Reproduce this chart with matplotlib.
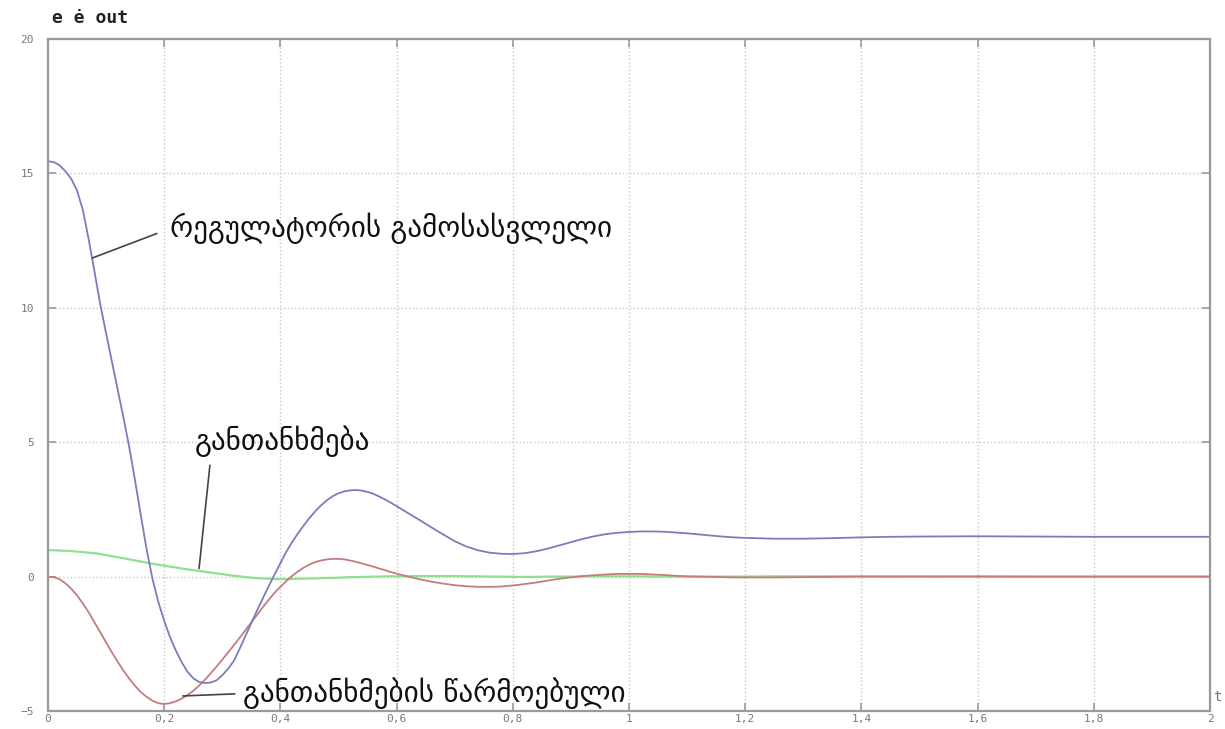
import numpy as np
from matplotlib import pyplot as plt

# time samples (s)
t = [0.00, 0.01, 0.02, 0.03, 0.04, 0.05, 0.06, 0.07, 0.08, 0.09,
     0.10, 0.11, 0.12, 0.13, 0.14, 0.15, 0.16, 0.17, 0.18, 0.19,
     0.20, 0.21, 0.22, 0.23, 0.24, 0.25, 0.26, 0.27, 0.28, 0.29,
     0.30, 0.31, 0.32, 0.33, 0.34, 0.35, 0.36, 0.37, 0.38, 0.39,
     0.40, 0.41, 0.42, 0.43, 0.44, 0.45, 0.46, 0.47, 0.48, 0.49,
     0.50, 0.51, 0.52, 0.53, 0.54, 0.55, 0.56, 0.57, 0.58, 0.59,
     0.60,
     0.62, 0.64, 0.66, 0.68, 0.70, 0.72, 0.74, 0.76, 0.78, 0.80,
     0.82, 0.84, 0.86, 0.88, 0.90, 0.92, 0.94, 0.96, 0.98, 1.00,
     1.02, 1.04, 1.06, 1.08, 1.10, 1.12, 1.14, 1.16, 1.18, 1.20,
     1.25, 1.30, 1.35, 1.40, 1.45,
     1.50, 1.60, 1.70, 1.80, 1.90, 2.00]

# regulator output (blue)
out = [15.45, 15.42, 15.30, 15.08, 14.80, 14.36, 13.64, 12.55, 11.35, 10.12,
       9.05, 8.00, 6.95, 5.90, 4.80, 3.55, 2.25, 0.98, -0.10, -0.95,
       -1.65, -2.25, -2.75, -3.18, -3.54, -3.78, -3.92, -3.96, -3.94, -3.86,
       -3.67, -3.43, -3.13, -2.68, -2.20, -1.72, -1.25, -0.80, -0.35, 0.08,
       0.50, 0.92, 1.28, 1.60, 1.90, 2.18, 2.43, 2.65, 2.84, 2.99,
       3.10, 3.17, 3.21, 3.22, 3.20, 3.15, 3.08, 2.98, 2.87, 2.75,
       2.62,
       2.36, 2.10, 1.83, 1.57, 1.32, 1.12, 0.98, 0.89, 0.85, 0.84,
       0.87, 0.94, 1.04, 1.16, 1.28, 1.40, 1.50, 1.58, 1.63, 1.66,
       1.68, 1.68, 1.67, 1.64, 1.61, 1.57, 1.53, 1.49, 1.46, 1.44,
       1.41, 1.41, 1.43, 1.46, 1.48,
       1.49, 1.50, 1.49, 1.48, 1.48, 1.48]

# error derivative (red)
edot = [0.00, -0.02, -0.10, -0.25, -0.45, -0.70, -1.00, -1.33, -1.70, -2.07,
        -2.45, -2.82, -3.17, -3.50, -3.80, -4.07, -4.30, -4.48, -4.62, -4.71,
        -4.74, -4.71, -4.64, -4.54, -4.41, -4.25, -4.06, -3.84, -3.60, -3.35,
        -3.09, -2.82, -2.55, -2.27, -1.99, -1.70, -1.42, -1.13, -0.86, -0.60,
        -0.38, -0.17, 0.02, 0.19, 0.33, 0.45, 0.54, 0.60, 0.64, 0.66,
        0.66, 0.64, 0.60, 0.55, 0.49, 0.43, 0.37, 0.30, 0.24, 0.17,
        0.11,
        0.00, -0.10, -0.19, -0.26, -0.32, -0.36, -0.38, -0.38, -0.37, -0.33,
        -0.28, -0.22, -0.15, -0.08, -0.03, 0.02, 0.05, 0.08, 0.10, 0.10,
        0.10, 0.08, 0.06, 0.03, 0.01, 0.00, -0.01, -0.02, -0.03, -0.03,
        -0.03, -0.02, -0.01, 0.00, 0.00,
        0.00, 0.00, 0.00, 0.00, 0.00, 0.00]

# error (green)
e = [0.98, 0.98, 0.97, 0.96, 0.95, 0.93, 0.91, 0.89, 0.87, 0.84,
     0.80, 0.76, 0.72, 0.68, 0.64, 0.60, 0.56, 0.52, 0.48, 0.44,
     0.41, 0.37, 0.34, 0.30, 0.27, 0.24, 0.21, 0.18, 0.15, 0.12,
     0.09, 0.06, 0.03, 0.01, -0.02, -0.04, -0.06, -0.07, -0.08, -0.09,
     -0.09, -0.09, -0.09, -0.08, -0.08, -0.07, -0.07, -0.06, -0.05, -0.05,
     -0.04, -0.03, -0.02, -0.02, -0.01, -0.01, 0.00, 0.00, 0.01, 0.01,
     0.01,
     0.02, 0.02, 0.02, 0.02, 0.02, 0.01, 0.01, 0.00, 0.00, -0.01,
     -0.01, -0.01, 0.00, 0.00, 0.00, 0.01, 0.01, 0.01, 0.01, 0.01,
     0.01, 0.00, 0.00, 0.00, 0.00, 0.00, 0.00, 0.00, 0.00, 0.00,
     0.01, 0.01, 0.01, 0.01, 0.01,
     0.01, 0.01, 0.00, 0.00, 0.00, 0.00]

xticks = [0, 0.2, 0.4, 0.6, 0.8, 1, 1.2, 1.4, 1.6, 1.8, 2]
xticklabels = ["0", "0,2", "0,4", "0,6", "0,8", "1", "1,2", "1,4", "1,6", "1,8", "2"]
yticks = [-5, 0, 5, 10, 15, 20]

label_out = "რეგულატორის გამოსასვლელი"
label_e = "განთანხმება"
label_edot = "განთანხმების წარმოებული"

W, H = 1225, 729
fig = plt.figure(figsize=(W / 100, H / 100), dpi=100)
ax = fig.add_axes([48 / W, 1 - 711 / H, (1210 - 48) / W, (711 - 39) / H])

ax.plot(t, e, color="#8fe08f", lw=1.6)
ax.plot(t, edot, color="#c47c7c", lw=1.3)
ax.plot(t, out, color="#7c7cba", lw=1.3)

ax.set_xlim(0, 2)
ax.set_ylim(-5, 20)
ax.set_xticks(xticks)
ax.set_xticklabels(xticklabels)
ax.set_yticks(yticks)
ax.grid(True, color="#c8c8c8", linestyle=":", linewidth=1.0)
for s in ax.spines.values():
    s.set_color("#9a9a9a")
    s.set_linewidth(1.6)
ax.tick_params(direction="in", length=6, width=1.2, color="#9a9a9a",
               top=True, right=True, labelsize=8, labelcolor="#777777")
ax.tick_params(axis="x", pad=2)
ax.tick_params(axis="y", pad=10)
for lab in ax.get_xticklabels() + ax.get_yticklabels():
    lab.set_family("DejaVu Sans Mono")

fig.text(52 / W, 1 - 18 / H, "e ė out", family="DejaVu Sans Mono", weight="bold",
         fontsize=13, color="#222222", va="center", ha="left")
fig.text(1213 / W, 1 - 697 / H, "t", family="DejaVu Sans Mono", fontsize=10,
         color="#777777", va="center", ha="left")

lineprops = dict(arrowstyle="-", color="#444444", lw=1.2, shrinkB=0)
ax.annotate(label_out, xy=(0.076, 11.85), xytext=(0.21, 12.95),
            fontsize=21, family="DejaVu Sans", color="#111111", va="center", ha="left",
            arrowprops=dict(relpos=(0, 0.5), shrinkA=8, **lineprops))
ax.annotate(label_e, xy=(0.26, 0.3), xytext=(0.253, 5.04),
            fontsize=21, family="DejaVu Sans", color="#111111", va="center", ha="left",
            arrowprops=dict(relpos=(0.09, 0), shrinkA=4, **lineprops))
ax.annotate(label_edot, xy=(0.232, -4.44), xytext=(0.336, -4.35),
            fontsize=21, family="DejaVu Sans", color="#111111", va="center", ha="left",
            arrowprops=dict(relpos=(0, 0.5), shrinkA=4, **lineprops))

fig.savefig("out.png", dpi=100)
